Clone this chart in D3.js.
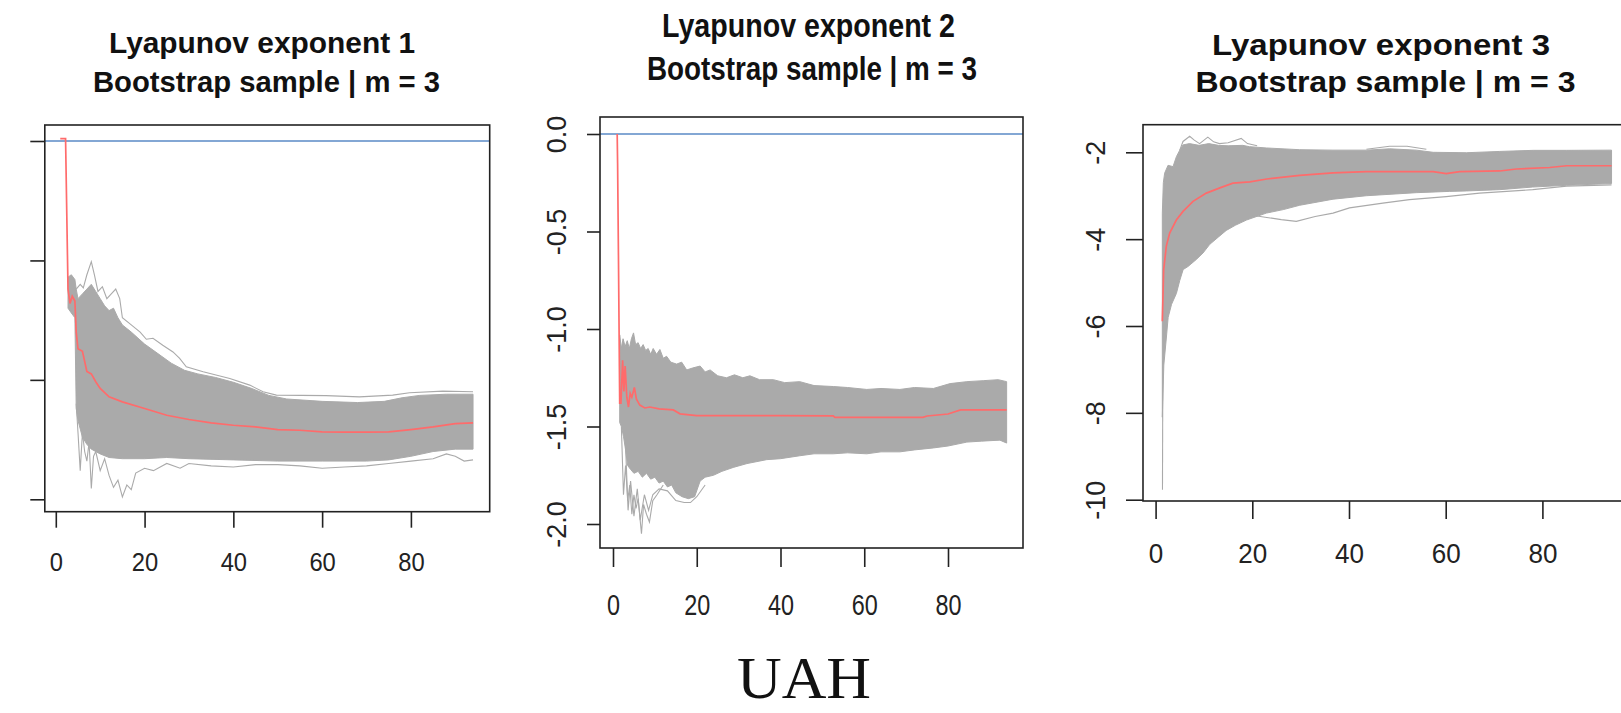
<!DOCTYPE html>
<html>
<head>
<meta charset="utf-8">
<script src="https://cdn.jsdelivr.net/npm/d3@7"></script>
<style>
  body { margin: 0; background: #fff; }
  svg { display: block; }
</style>
</head>
<body>
<svg id="chart"></svg>
<script>
const width = 1621;
const height = 713;

// Titles and tick labels
const panelTitles = [
  ["Lyapunov exponent 1", "Bootstrap sample | m = 3"],
  ["Lyapunov exponent 2", "Bootstrap sample | m = 3"],
  ["Lyapunov exponent 3", "Bootstrap sample | m = 3"],
];
const footerLabel = "UAH";
const xTickValues = [0, 20, 40, 60, 80];
const p1YTicks = [0, -0.5, -1.0, -1.5];
const p2YTicks = [0, -0.5, -1.0, -1.5, -2.0];
const p3YTicks = [-2, -4, -6, -8, -10];

// Panel 1 (exponent 1): mean path, dense bootstrap band edges and outer traces
const p1Mean = [[1, 0.01], [2.2, 0.01], [2.75, -0.62], [3.2, -0.68], [3.7, -0.65], [4.3, -0.67], [4.6, -0.8],
  [5, -0.87], [6, -0.88], [7, -0.965], [8, -0.975], [9, -1.008], [10, -1.036], [12, -1.071], [15, -1.092],
  [20, -1.12], [25, -1.148], [30, -1.166], [35, -1.18], [40, -1.19], [45, -1.197], [50, -1.208], [55, -1.211],
  [60, -1.218], [65, -1.219], [70, -1.219], [75, -1.218], [80, -1.208], [85, -1.197], [90, -1.183], [94, -1.18]];
const p1Upper = [[2.75, -0.57], [3.5, -0.56], [4.3, -0.58], [4.6, -0.62], [5, -0.66], [6, -0.64], [7, -0.62],
  [8, -0.6], [9, -0.63], [10, -0.66], [11, -0.69], [12, -0.71], [13, -0.7], [14, -0.74], [15, -0.77],
  [17, -0.8], [20, -0.85], [23, -0.89], [26, -0.93], [29, -0.96], [32, -0.975], [36, -0.99], [40, -1.01],
  [44, -1.035], [48, -1.065], [52, -1.08], [60, -1.09], [68, -1.095], [74, -1.09], [78, -1.075],
  [82, -1.065], [88, -1.06], [94, -1.06]];
const p1Lower = [[2.75, -0.7], [3.5, -0.72], [4.3, -0.74], [4.6, -1.12], [5, -1.17], [6, -1.24], [7, -1.27],
  [8, -1.29], [10, -1.31], [12, -1.325], [15, -1.33], [20, -1.33], [25, -1.325], [30, -1.33], [40, -1.335],
  [50, -1.34], [60, -1.34], [70, -1.34], [75, -1.335], [80, -1.32], [85, -1.3], [90, -1.29], [94, -1.29]];
const p1OuterHigh = [[4.6, -0.62], [5.5, -0.6], [6.2, -0.615], [7, -0.56], [8, -0.505], [8.7, -0.56],
  [9.5, -0.63], [10.5, -0.61], [11.5, -0.66], [12.5, -0.64], [13.5, -0.62], [14.4, -0.66], [15, -0.74],
  [17, -0.77], [19, -0.8], [20.4, -0.83], [21.9, -0.826], [24.1, -0.855], [26.4, -0.883], [27.9, -0.91],
  [29.4, -0.945], [33.2, -0.966], [39.2, -0.994], [43.7, -1.022], [46.7, -1.05], [49.7, -1.064],
  [60.9, -1.066], [68.4, -1.071], [75.9, -1.064], [79.7, -1.054], [87.2, -1.047], [94, -1.05]];
const p1OuterLow = [[4.6, -1.1], [5, -1.22], [5.5, -1.38], [6, -1.22], [6.5, -1.3], [7, -1.34], [7.5, -1.26],
  [8, -1.455], [8.5, -1.32], [9, -1.3], [10, -1.38], [11, -1.33], [12, -1.4], [13, -1.45], [14, -1.42],
  [15, -1.49], [16, -1.44], [17, -1.46], [18, -1.39], [20, -1.37], [22, -1.38], [25, -1.35], [28, -1.37],
  [30, -1.35], [35, -1.36], [40, -1.365], [45, -1.355], [50, -1.355], [55, -1.36], [60, -1.37],
  [65, -1.365], [70, -1.36], [75, -1.35], [80, -1.34], [85, -1.33], [88, -1.31], [90, -1.32], [92, -1.34],
  [94, -1.335]];

// Panel 2 (exponent 2)
const p2Mean = [[1, 0], [1.1, -0.15], [1.3, -0.62], [1.6, -1.38], [1.9, -1.38], [2.3, -1.16], [2.6, -1.32],
  [2.9, -1.19], [3.3, -1.35], [3.7, -1.4], [4.1, -1.33], [4.5, -1.35], [5.1, -1.3], [5.6, -1.36],
  [6.4, -1.39], [7.6, -1.405], [8.8, -1.4], [11, -1.41], [14.4, -1.415], [16, -1.435], [20, -1.444],
  [30, -1.444], [40, -1.444], [52.6, -1.446], [53, -1.453], [74, -1.453], [75, -1.446], [80, -1.436],
  [83, -1.415], [94, -1.415]];
const p2Upper = [[1.6, -1.03], [2.0, -1.1], [2.4, -1.05], [2.9, -1.09], [3.4, -1.06], [3.9, -1.1],
  [4.4, -1.05], [4.9, -1.02], [5.4, -1.08], [6.0, -1.07], [6.6, -1.1], [7.2, -1.08], [7.8, -1.11],
  [8.4, -1.1], [9.0, -1.13], [9.6, -1.1], [10.4, -1.13], [11.2, -1.105], [12.0, -1.15], [12.8, -1.14],
  [13.8, -1.17], [15.2, -1.18], [16.4, -1.17], [17.6, -1.21], [19.0, -1.2], [20.8, -1.19], [22.0, -1.22],
  [23.2, -1.21], [25.0, -1.24], [27.1, -1.25], [29.0, -1.235], [31.0, -1.25], [32.7, -1.24], [35.0, -1.26],
  [38.3, -1.26], [41.0, -1.275], [44.6, -1.27], [48.0, -1.29], [52.6, -1.295], [56.0, -1.3], [60.6, -1.31],
  [64.0, -1.305], [68.5, -1.31], [72.0, -1.3], [76.5, -1.305], [80.5, -1.28], [84.5, -1.27], [88.4, -1.265],
  [92.0, -1.26], [94, -1.27]];
const p2Lower = [[1.6, -1.48], [2.0, -1.5], [2.5, -1.55], [3.0, -1.62], [3.5, -1.7], [4.2, -1.72], [5, -1.74],
  [6, -1.73], [7, -1.76], [8, -1.74], [9, -1.77], [10, -1.76], [11, -1.79], [12, -1.78], [13, -1.81],
  [14, -1.8], [15, -1.84], [16.5, -1.86], [18, -1.87], [19.5, -1.86], [20.8, -1.78], [22, -1.76],
  [24, -1.75], [26, -1.73], [28.7, -1.71], [32, -1.69], [36.7, -1.67], [40, -1.665], [44.6, -1.65],
  [48, -1.64], [52.6, -1.64], [56, -1.635], [60.6, -1.64], [64, -1.63], [68.5, -1.63], [72, -1.62],
  [76.5, -1.61], [80, -1.6], [84.5, -1.58], [88, -1.575], [92.4, -1.57], [94, -1.585]];
const p2SpikeA = [[2, -1.5], [2.5, -1.85], [3, -1.7], [3.5, -1.88], [4, -1.8], [4.5, -1.95], [5, -1.85],
  [5.5, -1.92], [6, -1.87], [6.8, -2.05], [7.3, -1.9], [8, -1.95], [8.7, -1.99], [9.5, -1.88],
  [10.5, -1.85], [12, -1.8]];
const p2SpikeB = [[3, -1.6], [3.6, -1.93], [4.2, -1.78], [5, -1.96], [5.8, -1.82], [6.5, -1.98],
  [7.5, -1.85], [8.5, -1.93], [9.5, -1.85], [11, -1.82], [13, -1.83], [15, -1.88], [17, -1.89],
  [18.5, -1.89], [20, -1.86], [22, -1.8]];

// Panel 3 (exponent 3)
const p3Mean = [[1.39, -5.89], [1.67, -4.7], [2.22, -4.16], [2.91, -3.86], [4.29, -3.56], [5.67, -3.36],
  [7.74, -3.13], [10.5, -2.94], [13.3, -2.82], [16, -2.71], [19.5, -2.68], [23, -2.615], [29.8, -2.53],
  [36.7, -2.476], [43.6, -2.445], [57.4, -2.445], [60.1, -2.49], [62.9, -2.445], [71.2, -2.43],
  [74.6, -2.384], [81.5, -2.35], [85, -2.31], [94.3, -2.31]];
const p3Upper = [[1.39, -3.4], [1.6, -2.7], [1.87, -2.48], [2.57, -2.3], [3.6, -2.33], [4.3, -2.1],
  [5.0, -1.95], [5.67, -1.83], [7, -1.8], [9, -1.84], [11, -1.8], [13, -1.84], [15, -1.85], [18, -1.84],
  [19.4, -1.87], [22.9, -1.9], [29.8, -1.94], [36.7, -1.95], [43.6, -1.95], [48.4, -1.92], [53.9, -1.95],
  [57.4, -2.0], [64.3, -2.01], [71.2, -1.98], [78.1, -1.955], [85, -1.955], [94.3, -1.95]];
const p3Lower = [[1.39, -8.1], [1.7, -6.9], [2.2, -6.3], [2.6, -5.8], [3.3, -5.5], [4.3, -5.25], [5.0, -4.95],
  [5.7, -4.7], [6.7, -4.63], [8.4, -4.47], [9.8, -4.32], [11.2, -4.12], [13, -3.95], [14.6, -3.8],
  [16.5, -3.68], [18.8, -3.56], [22.9, -3.4], [26.4, -3.32], [29.8, -3.22], [36.7, -3.08], [43.6, -3.0],
  [53.9, -2.93], [60.8, -2.9], [64.3, -2.89], [71.2, -2.86], [78, -2.8], [85, -2.76], [94.3, -2.72]];
const p3OuterHigh = [[5, -1.95], [5.67, -1.75], [7.05, -1.63], [8, -1.72], [9.1, -1.8], [10.8, -1.65],
  [12, -1.76], [13.2, -1.8], [15, -1.78], [17.7, -1.68], [19, -1.8], [21, -1.85]];
const p3OuterHigh2 = [[43.6, -1.93], [48.4, -1.86], [52, -1.86], [56, -1.93]];
const p3OuterLow = [[20, -3.45], [23, -3.5], [26, -3.55], [29.1, -3.59], [33, -3.48], [36.7, -3.4],
  [40.1, -3.28], [47, -3.17], [52.5, -3.09], [60.1, -3.02], [67, -2.94], [78, -2.86], [85, -2.78],
  [94.3, -2.75]];
const p3Deep = [[1.42, -9.77], [1.5, -6.8]];

// Layout of the three panels (pixel geometry of each separately scaled plot)
const panels = [
  {
    box: { l: 44.8, t: 125, r: 489.7, b: 511.7 },
    xRange: [55.8, 410.9], yDomain: [0, -1.5], yRange: [141, 499.3],
    yTicks: p1YTicks, yFormat: () => "", zeroLine: true,
    xTickLen: 16, yTickLen: 14.5, xLabelY: 571, xFont: 25, xScale: 0.95, yLabelX: 0, yFont: 27,
    titleFont: 30, titles: [{ cx: 262, y: 53, len: 306 }, { cx: 266.5, y: 92, len: 347 }],
    mean: p1Mean, upper: p1Upper, lower: p1Lower, traces: [p1OuterHigh, p1OuterLow],
  },
  {
    box: { l: 600, t: 117, r: 1023, b: 548 },
    xRange: [613, 948], yDomain: [0, -2], yRange: [134, 524],
    yTicks: p2YTicks, yFormat: (d) => d.toFixed(1), zeroLine: true,
    xTickLen: 19, yTickLen: 13, xLabelY: 615, xFont: 30, xScale: 0.78, yLabelX: 557, yFont: 27,
    titleFont: 34, titles: [{ cx: 808.5, y: 37, len: 293 }, { cx: 812, y: 80, len: 330 }],
    mean: p2Mean, upper: p2Upper, lower: p2Lower, traces: [p2SpikeA, p2SpikeB],
  },
  {
    box: { l: 1143, t: 124.7, r: 1660, b: 501 },
    xRange: [1155.6, 1542.4], yDomain: [-2, -10], yRange: [152.3, 499.7],
    yTicks: p3YTicks, yFormat: (d) => String(d), zeroLine: false,
    xTickLen: 18, yTickLen: 17, xLabelY: 563, xFont: 28, xScale: 0.93, yLabelX: 1096, yFont: 27,
    titleFont: 30, titles: [{ cx: 1381, y: 55, len: 338 }, { cx: 1385.5, y: 92, len: 380 }],
    mean: p3Mean, upper: p3Upper, lower: p3Lower, traces: [p3OuterHigh, p3OuterHigh2, p3OuterLow, p3Deep],
  },
];

const sansFont = "'Liberation Sans', Arial, sans-serif";
const bandColor = "#aaaaaa";
const meanColor = "#ff6b6b";
const zeroColor = "#5a8ac6";
const inkColor = "#222";

const svg = d3.select("#chart").attr("width", width).attr("height", height);

function drawPanel(p, i) {
  const x = d3.scaleLinear().domain([0, 80]).range(p.xRange);
  const y = d3.scaleLinear().domain(p.yDomain).range(p.yRange);
  const g = svg.append("g").attr("class", "panel");

  // Keep everything that is data inside the plot box.
  const clipId = "clip" + i;
  svg.append("clipPath").attr("id", clipId)
    .append("rect")
    .attr("x", p.box.l).attr("y", p.box.t)
    .attr("width", p.box.r - p.box.l).attr("height", p.box.b - p.box.t);
  const plot = g.append("g").attr("clip-path", `url(#${clipId})`);

  const line = d3.line().x((d) => x(d[0])).y((d) => y(d[1]));

  // Bootstrap paths drawn as the dense band between the upper and lower edges.
  const bandPoints = p.upper.concat(p.lower.slice().reverse());
  plot.append("path")
    .attr("d", line(bandPoints) + "Z")
    .attr("fill", bandColor)
    .attr("stroke", bandColor)
    .attr("stroke-width", 1);

  // Single bootstrap paths that stray from the band.
  plot.selectAll(".trace")
    .data(p.traces)
    .enter()
    .append("path")
    .attr("class", "trace")
    .attr("d", line)
    .attr("fill", "none")
    .attr("stroke", bandColor)
    .attr("stroke-width", 1.1);

  if (p.zeroLine) {
    plot.append("line")
      .attr("x1", p.box.l).attr("x2", p.box.r)
      .attr("y1", y(0)).attr("y2", y(0))
      .attr("stroke", zeroColor)
      .attr("stroke-width", 1.6);
  }

  plot.append("path")
    .attr("d", line(p.mean))
    .attr("fill", "none")
    .attr("stroke", meanColor)
    .attr("stroke-width", 1.7);

  g.append("rect")
    .attr("x", p.box.l).attr("y", p.box.t)
    .attr("width", p.box.r - p.box.l).attr("height", p.box.b - p.box.t)
    .attr("fill", "none")
    .attr("stroke", inkColor)
    .attr("stroke-width", 1.6);

  // Bottom axis
  const gx = g.append("g")
    .attr("transform", `translate(0,${p.box.b})`)
    .call(d3.axisBottom(x).tickValues(xTickValues).tickSize(p.xTickLen).tickFormat(d3.format("d")));
  gx.select(".domain").remove();
  gx.selectAll("line").attr("stroke", inkColor).attr("stroke-width", 1.6);
  gx.selectAll("text")
    .attr("y", null)
    .attr("dy", null)
    .attr("transform", `translate(0,${p.xLabelY - p.box.b}) scale(${p.xScale},1)`)
    .attr("font-size", p.xFont)
    .attr("font-family", sansFont)
    .attr("fill", inkColor);

  // Left axis with labels turned parallel to the axis
  const gy = g.append("g")
    .attr("transform", `translate(${p.box.l},0)`)
    .call(d3.axisLeft(y).tickValues(p.yTicks).tickSize(p.yTickLen).tickFormat(p.yFormat));
  gy.select(".domain").remove();
  gy.selectAll("line").attr("stroke", inkColor).attr("stroke-width", 1.6);
  gy.selectAll("text")
    .attr("x", null)
    .attr("dy", "0.35em")
    .attr("text-anchor", "middle")
    .attr("transform", `translate(${p.yLabelX - p.box.l},0) rotate(-90)`)
    .attr("font-size", p.yFont)
    .attr("font-family", sansFont)
    .attr("fill", inkColor);

  // Two-line bold title
  p.titles.forEach((t, k) => {
    g.append("text")
      .attr("x", t.cx)
      .attr("y", t.y)
      .attr("text-anchor", "middle")
      .attr("font-family", sansFont)
      .attr("font-weight", "bold")
      .attr("font-size", p.titleFont)
      .attr("textLength", t.len)
      .attr("lengthAdjust", "spacingAndGlyphs")
      .attr("fill", "#111")
      .text(panelTitles[i][k]);
  });
}

panels.forEach(drawPanel);

svg.append("text")
  .attr("x", 804)
  .attr("y", 698)
  .attr("text-anchor", "middle")
  .attr("font-family", "'Liberation Serif', 'Times New Roman', serif")
  .attr("font-size", 60)
  .attr("textLength", 134)
  .attr("lengthAdjust", "spacingAndGlyphs")
  .attr("fill", "#111")
  .text(footerLabel);
</script>
</body>
</html>
